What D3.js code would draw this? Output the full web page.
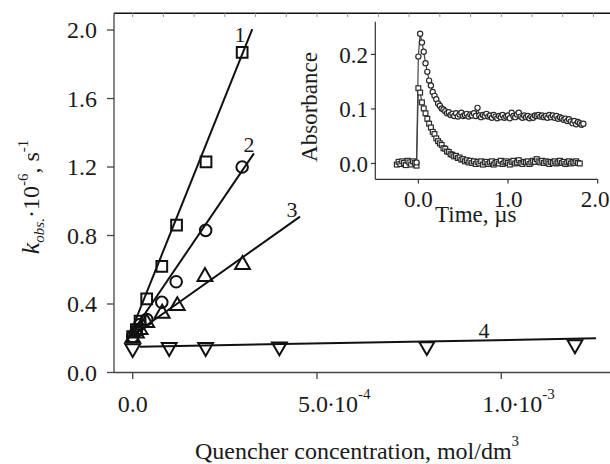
<!DOCTYPE html>
<html><head><meta charset="utf-8">
<script src="https://cdn.jsdelivr.net/npm/d3@7"></script>
<style>
body{margin:0;background:#fff}
svg{display:block}
text{font-family:"Liberation Serif","Times New Roman",serif;fill:#1a1a1a}
</style>
</head><body><svg id="c" width="610" height="464"></svg>
<script>
// ---- Main chart data (concentration in 1e-4 mol/dm3, k_obs in 1e6 s^-1) ----
const conc1 = [0, 0.1, 0.2, 0.38, 0.79, 1.19, 1.99, 2.97];
const kobs1 = [0.21, 0.25, 0.30, 0.43, 0.62, 0.86, 1.23, 1.87];
const conc2 = [0, 0.1, 0.2, 0.38, 0.79, 1.18, 1.98, 2.97];
const kobs2 = [0.21, 0.24, 0.28, 0.31, 0.41, 0.53, 0.83, 1.20];
const conc3 = [0, 0.1, 0.2, 0.38, 0.80, 1.21, 1.96, 2.98];
const kobs3 = [0.20, 0.23, 0.25, 0.29, 0.345, 0.39, 0.56, 0.63];
const conc4 = [0, 0.99, 1.98, 3.98, 7.98, 12.0];
const kobs4 = [0.14, 0.147, 0.147, 0.15, 0.152, 0.163];
// fitted straight lines: [xStart, yStart, xEnd, yEnd]
const fit1 = [-0.12, 0.20, 3.245, 2.005];
const fit2 = [-0.12, 0.20, 3.29, 1.28];
const fit3 = [-0.12, 0.20, 4.54, 0.91];
const fit4 = [0.2, 0.1506, 12.57, 0.1997];
const curveLabels = ["1", "2", "3", "4"];
const curveLabelX = [2.91, 3.155, 4.32, 9.53];
const curveLabelY = [1.932, 1.289, 0.91, 0.20];
const yTicks = [0.0, 0.4, 0.8, 1.2, 1.6, 2.0];
const xTicks = [0, 5, 10];
const xTickMant = ["0.0", "5.0", "1.0"];
const xTickExp = ["", "-4", "-3"];

// ---- Inset data: absorbance traces, sampled every 0.02 us ----
const traceT0Lower = -0.24, traceT0Upper = -0.02, traceDt = 0.02;
const absLower = [
 -0.002,0.003,-0.001,0.004,0.001,-0.003,0.005,0.002,-0.002,0.004,0.001,-0.004,
 0.138,0.130,0.112,0.101,0.092,0.082,0.073,0.066,0.058,0.054,0.046,0.041,0.037,0.034,
 0.028,0.027,0.022,0.021,0.017,0.016,0.013,0.014,0.010,0.011,0.007,0.008,0.004,0.006,
 0.002,0.005,0.001,0.004,-0.001,0.003,0.000,0.004,-0.002,0.002,0.003,-0.001,0.002,0.004,
 -0.002,0.001,0.003,0.000,0.005,-0.001,0.002,0.004,0.001,-0.002,0.003,0.005,0.000,0.002,
 0.006,0.001,-0.001,0.003,0.002,0.004,-0.001,0.002,0.005,0.003,0.008,0.004,0.002,0.005,
 0.001,0.004,0.002,-0.001,0.003,0.001,0.004,0.000,0.002,0.005,0.001,0.003,-0.001,0.002,
 0.004,0.000,0.003,0.001,0.004,0.001,0.000];
const absUpper = [
 0.002,0.196,0.238,0.222,0.205,0.184,0.168,0.152,0.143,0.131,0.124,0.118,0.110,0.106,
 0.101,0.099,0.096,0.092,0.094,0.089,0.091,0.087,0.092,0.086,0.090,0.093,0.087,0.089,
 0.091,0.086,0.090,0.088,0.092,0.087,0.102,0.088,0.085,0.089,0.087,0.091,0.086,0.088,
 0.084,0.089,0.086,0.083,0.087,0.085,0.089,0.084,0.086,0.088,0.083,0.093,0.087,0.085,
 0.090,0.093,0.086,0.084,0.088,0.085,0.087,0.083,0.086,0.084,0.088,0.087,0.089,0.086,
 0.088,0.085,0.087,0.084,0.089,0.085,0.088,0.084,0.087,0.082,0.085,0.083,0.080,0.082,
 0.078,0.081,0.077,0.074,0.078,0.072,0.076,0.074,0.071,0.073];
const insetYTicks = [0.0, 0.1, 0.2];
const insetXTicks = [0.0, 1.0, 2.0];

// ---- drawing ----
const svg = d3.select("#c");
const x = d3.scaleLinear().domain([-0.507, 12.95]).range([114, 610]);
const y = d3.scaleLinear().domain([0, 2.1]).range([372.5, 12.9]);

// top frame line with minor ticks
svg.append("line").attr("x1", 114).attr("x2", 610).attr("y1", 13.3).attr("y2", 13.3)
  .attr("stroke", "#111").attr("stroke-width", 1.6);
svg.selectAll(".tt").data(d3.range(0, 12.95, 5 / 6)).enter().append("line")
  .attr("x1", d => x(d)).attr("x2", d => x(d)).attr("y1", 13.3).attr("y2", 17)
  .attr("stroke", "#999").attr("stroke-width", 1);

// left axis
svg.append("line").attr("x1", 114).attr("x2", 114).attr("y1", 13.3).attr("y2", 372.5)
  .attr("stroke", "#444").attr("stroke-width", 1.3);
svg.selectAll(".yt").data(yTicks).enter().append("line")
  .attr("x1", 107).attr("x2", 114).attr("y1", d => y(d)).attr("y2", d => y(d))
  .attr("stroke", "#444").attr("stroke-width", 1.3);
svg.selectAll(".yl").data(yTicks).enter().append("text")
  .attr("x", 97).attr("y", d => y(d) + 8.3).attr("text-anchor", "end")
  .attr("font-size", 24).text(d => d.toFixed(1));

// bottom axis
svg.append("line").attr("x1", 114).attr("x2", 610).attr("y1", 372.5).attr("y2", 372.5)
  .attr("stroke", "#444").attr("stroke-width", 1.3);
svg.selectAll(".xt").data(xTicks).enter().append("line")
  .attr("x1", d => x(d)).attr("x2", d => x(d)).attr("y1", 372.5).attr("y2", 379)
  .attr("stroke", "#444").attr("stroke-width", 1.3);
xTicks.forEach((v, i) => {
  const t = svg.append("text").attr("font-size", 24).attr("y", 412);
  if (xTickExp[i] === "") {
    t.attr("x", x(v)).attr("text-anchor", "middle").text(xTickMant[i]);
  } else {
    t.attr("x", x(v) - 19).attr("text-anchor", "start");
    t.append("tspan").text(xTickMant[i]);
    t.append("tspan").attr("dx", -1).text("\u00b7");
    t.append("tspan").attr("dx", -1).text("10");
    t.append("tspan").attr("font-size", 15).attr("dy", -13).text(xTickExp[i]);
  }
});

// axis titles
const xt = svg.append("text").attr("x", 195).attr("y", 459).attr("font-size", 24);
xt.append("tspan").text("Quencher concentration, mol/dm");
xt.append("tspan").attr("font-size", 15).attr("dy", -13).text("3");

const yt = svg.append("text").attr("transform", "translate(39,197) rotate(-90)")
  .attr("text-anchor", "middle").attr("font-size", 24);
yt.append("tspan").attr("font-style", "italic").attr("font-size", 26).text("k");
yt.append("tspan").attr("font-style", "italic").attr("font-size", 15).attr("dy", 5).text("obs.");
yt.append("tspan").attr("dy", -5).text("\u00b710");
yt.append("tspan").attr("font-size", 15).attr("dy", -11).text("-6");
yt.append("tspan").attr("dy", 11).text(", s");
yt.append("tspan").attr("font-size", 15).attr("dy", -11).text("-1");

// fit lines
[fit1, fit2, fit3, fit4].forEach(f => {
  svg.append("line").attr("x1", x(f[0])).attr("y1", y(f[1])).attr("x2", x(f[2])).attr("y2", y(f[3]))
    .attr("stroke", "#111").attr("stroke-width", 2);
});

// markers
const mk = (cx, kv, sym, size, rot) => {
  svg.append("g").selectAll("path").data(cx.map((c, i) => [c, kv[i]])).enter().append("path")
    .attr("transform", d => `translate(${x(d[0])},${y(d[1])}) rotate(${rot})`)
    .attr("d", d3.symbol().type(sym).size(size))
    .attr("fill", "none").attr("stroke", "#111").attr("stroke-width", 2);
};
mk(conc1, kobs1, d3.symbolSquare, 115, 0);
mk(conc2, kobs2, d3.symbolCircle, 105, 0);
mk(conc3, kobs3, d3.symbolTriangle, 95, 0);
mk(conc4, kobs4, d3.symbolTriangle, 95, 180);

// curve labels
svg.selectAll(".cl").data(curveLabels).enter().append("text")
  .attr("x", (d, i) => x(curveLabelX[i])).attr("y", (d, i) => y(curveLabelY[i]))
  .attr("text-anchor", "middle").attr("font-size", 22).text(d => d);

// ---- inset ----
const ix = d3.scaleLinear().domain([-0.48, 2.0]).range([375.3, 597.7]);
const iy = d3.scaleLinear().domain([-0.029, 0.26]).range([179.3, 21.7]);
const ig = svg.append("g");
ig.append("line").attr("x1", 375.3).attr("x2", 375.3).attr("y1", 21.7).attr("y2", 179.3)
  .attr("stroke", "#333").attr("stroke-width", 1.2);
ig.append("line").attr("x1", 375.3).attr("x2", 597.7).attr("y1", 179.3).attr("y2", 179.3)
  .attr("stroke", "#333").attr("stroke-width", 1.2);
ig.selectAll(".iyt").data(insetYTicks).enter().append("line")
  .attr("x1", 371).attr("x2", 375.3).attr("y1", d => iy(d)).attr("y2", d => iy(d))
  .attr("stroke", "#333").attr("stroke-width", 1.2);
ig.selectAll(".iyl").data(insetYTicks).enter().append("text")
  .attr("x", 368).attr("y", d => iy(d) + 8.4).attr("text-anchor", "end")
  .attr("font-size", 23).text(d => d.toFixed(1));
ig.selectAll(".ixt").data(insetXTicks).enter().append("line")
  .attr("x1", d => ix(d)).attr("x2", d => ix(d)).attr("y1", 179.3).attr("y2", 183.5)
  .attr("stroke", "#333").attr("stroke-width", 1.2);
ig.selectAll(".ixl").data(insetXTicks).enter().append("text")
  .attr("x", (d, i) => i === 2 ? 609.5 : ix(d)).attr("y", 207)
  .attr("text-anchor", (d, i) => i === 2 ? "end" : "middle")
  .attr("font-size", 23).text(d => d.toFixed(1));
ig.append("text").attr("x", 475.8).attr("y", 222).attr("text-anchor", "middle")
  .attr("font-size", 23).text("Time, \u00b5s");
ig.append("text").attr("transform", "translate(317,107) rotate(-90)")
  .attr("text-anchor", "middle").attr("font-size", 23).text("Absorbance");

const lowerPts = absLower.map((a, i) => [traceT0Lower + i * traceDt, a]);
const upperPts = absUpper.map((a, i) => [traceT0Upper + i * traceDt, a]);
const ln = d3.line().x(d => ix(d[0])).y(d => iy(d[1]));
ig.append("path").attr("d", ln(lowerPts)).attr("fill", "none").attr("stroke", "#444").attr("stroke-width", 1.2);
ig.append("path").attr("d", ln(upperPts)).attr("fill", "none").attr("stroke", "#444").attr("stroke-width", 1.2);
ig.append("g").selectAll("rect").data(lowerPts).enter().append("rect")
  .attr("x", d => ix(d[0]) - 2.4).attr("y", d => iy(d[1]) - 2.4).attr("width", 4.8).attr("height", 4.8)
  .attr("fill", "#fff").attr("stroke", "#2a2a2a").attr("stroke-width", 1.2);
ig.append("g").selectAll("circle").data(upperPts).enter().append("circle")
  .attr("cx", d => ix(d[0])).attr("cy", d => iy(d[1])).attr("r", 2.6)
  .attr("fill", "#fff").attr("stroke", "#2a2a2a").attr("stroke-width", 1.2);
</script>
</body></html>
